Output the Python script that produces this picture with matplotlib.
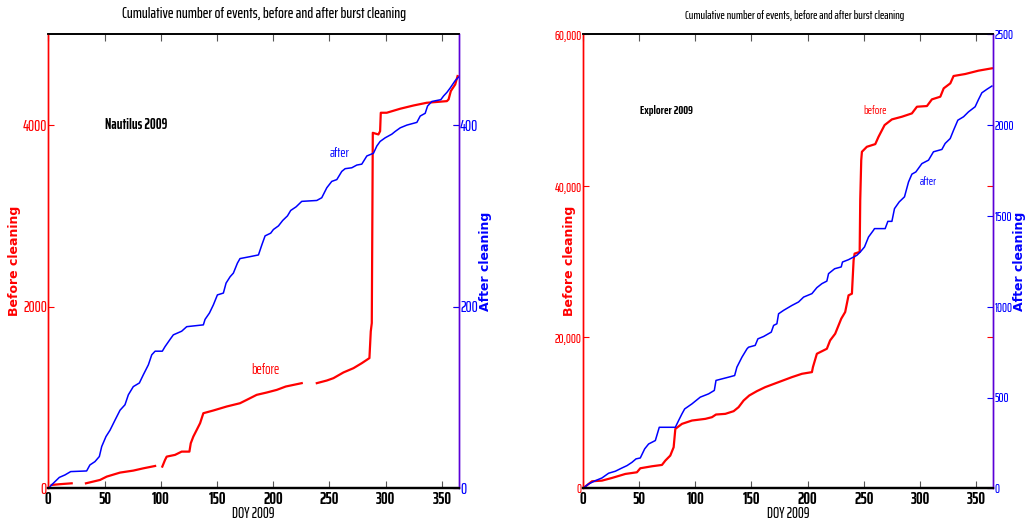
import numpy as np
import matplotlib
matplotlib.use("Agg")
import matplotlib.pyplot as plt

# ---------------- Data ----------------
# Nautilus 2009
naut_after_doy = [0, 4.4, 9.8, 14.8, 19.9, 34.1, 37, 41.5, 45.4, 47.5, 51.3, 54.9, 59.3, 63.8, 68.2,
                  71.2, 75.6, 81, 84.5, 89, 92, 95, 101.4, 103.8, 108.3, 111.2, 118.6, 123.1, 137.9,
                  139.4, 143.3, 146.8, 150.4, 155.7, 158.1, 161.7, 164.6, 168.2, 170.5, 178.9, 186.9,
                  189.9, 192.8, 197.8, 200.2, 204.7, 208.5, 212.7, 215.6, 220.4, 225.4, 238.8, 243.2,
                  247.7, 252.1, 256.6, 261, 264, 269.9, 274.4, 278.8, 283.3, 289.2, 292.2, 295.1,
                  299.6, 305.5, 308.5, 313, 318.9, 327.8, 330.8, 335.2, 337.3, 341.1, 349.1, 351.5,
                  354.5, 357.5, 361.9, 365]
naut_after_cnt = [0, 5.5, 12, 14.7, 18.4, 19.1, 25.7, 29.4, 35, 46, 57, 64, 75, 86, 92,
                  103, 112, 116, 125, 136, 147, 151, 151, 156, 164, 169, 173, 178, 180,
                  186, 193, 202, 213, 215, 226, 233, 237, 248, 253, 255, 257,
                  268, 278, 281, 285, 289, 295, 300, 306, 310, 316, 317, 320,
                  331, 338, 340, 349, 352, 353, 356, 357, 366, 369, 377, 382,
                  386, 390, 393, 397, 400, 403, 410, 413, 421, 426, 428, 432,
                  436, 441, 449, 453]
# NaN marks the gaps in the "before" record
naut_before_doy = [3, 10, 20.8, np.nan, 33.5, 46, 52, 63.8, 75.6, 84.5, 95, np.nan,
                   101.4, 103.8, 105.3, 112.7, 118.6, 125.5, 126.7, 129, 132, 135, 137.9,
                   146.8, 158.7, 170.5, 176.5, 185.3, 194.3, 203.2, 211.2, 225.4, np.nan,
                   238.8, 247.7, 253.6, 262.5, 271.4, 278.8, 283.3, 285.6, 286.8, 287.7,
                   288.3, 288.6, 293.6, 295.1, 295.7, 301, 312.9, 324.8, 336.6, 354.5,
                   356, 358, 361.9, 364]
naut_before_cnt = [37, 45, 55, np.nan, 55, 92, 129, 173, 195, 220, 246, np.nan,
                   239, 312, 349, 368, 404, 404, 496, 570, 643, 717, 827,
                   857, 901, 937, 974, 1029, 1055, 1084, 1121, 1158, np.nan,
                   1158, 1187, 1213, 1276, 1323, 1378, 1415, 1434, 1728, 1820,
                   3180, 3915, 3897, 3933, 4136, 4136, 4180, 4216, 4246, 4264,
                   4283, 4375, 4448, 4540]

# Explorer 2009
expl_after_doy = [0, 5, 11, 16.9, 22.8, 28.8, 34.7, 39.2, 43.6, 47.2, 51, 54.9, 58.4, 64.4, 67.9,
                  82.2, 85.1, 88.1, 90.5, 97, 104.4, 111.8, 116.9, 118.4, 129.6, 135, 137, 141.5,
                  146, 147.4, 153.3, 155.7, 160.8, 167.6, 169.7, 172.6, 174.1, 178.6, 186, 191.9,
                  196.4, 203.8, 208.2, 212.7, 217.1, 218.6, 224, 229.9, 231, 236.4, 243.8, 246.8,
                  250.6, 254.2, 258.6, 259.5, 269, 271.4, 275, 277.3, 281.5, 286.2, 289.8, 292.8,
                  296.3, 301.7, 307.6, 312, 319.5, 322.4, 326.9, 329.9, 333.7, 338.8, 343.2, 349.1,
                  352.1, 355.1, 359.5, 364]
expl_after_cnt = [0, 24, 42, 57, 83, 94, 112, 125, 143, 162, 167, 217, 244, 263, 336,
                  336, 373, 410, 437, 465, 502, 520, 539, 594, 612, 621, 667, 722,
                  768, 777, 787, 823, 836, 860, 897, 906, 961, 980, 1007, 1026,
                  1053, 1072, 1105, 1127, 1141, 1182, 1209, 1219, 1246, 1259, 1283, 1301,
                  1329, 1384, 1421, 1430, 1430, 1470, 1470, 1540, 1577, 1605, 1687, 1730,
                  1742, 1788, 1807, 1853, 1866, 1899, 1926, 1972, 2027, 2046, 2073, 2101,
                  2141, 2178, 2197, 2215]
expl_before_doy = [0, 8, 16.9, 25.8, 37.7, 48, 51, 61.4, 70.3, 73.3, 77.7, 80.7, 82.2, 88.1, 97,
                   108.9, 114.8, 118.4, 126.7, 134.1, 138.5, 143, 148, 154.8, 162.2, 174.1, 186,
                   194.9, 203.8, 204.7, 208.2, 217.1, 220, 224.5, 229.9, 233.4, 236.4, 239.4,
                   240.9, 241.8, 246.3, 246.8, 247.7, 248.3, 252.7, 260.2, 263.1, 268.5, 275,
                   283.9, 292.8, 297.3, 306.2, 310.6, 318.1, 321.1, 327, 329.9, 340.3, 352.1, 364]
expl_before_cnt = [0, 927, 1015, 1368, 1897, 2118, 2647, 2912, 3088, 3662, 4324, 5427, 7853, 8515, 8956,
                   9177, 9398, 9750, 9839, 10192, 10721, 11604, 12265, 12839, 13368, 14030, 14692,
                   15133, 15354, 16016, 17780, 18442, 19545, 20428, 22413, 23295, 25501, 25722,
                   30134, 31016, 31237, 38076, 43370, 44473, 45135, 45488, 46459, 48003, 48753,
                   49106, 49547, 50430, 50518, 51400, 51753, 52856, 53518, 54488, 54753, 55195, 55504]

x_ticks = [0, 50, 100, 150, 200, 250, 300, 350]
naut_left_ticks = [0, 2000, 4000]
naut_right_ticks = [0, 200, 400]
expl_left_ticks = [0, 20000, 40000, 60000]
expl_left_labels = ["0", "20,000", "40,000", "60,000"]
expl_right_ticks = [0, 500, 1000, 1500, 2000, 2500]

TITLE = "Cumulative number of events, before and after burst cleaning"

# ---------------- Style ----------------
NARROW = ["Fira Sans Extra Condensed", "PT Sans Narrow", "DejaVu Sans"]
XNARROW = ["Saira ExtraCondensed", "Fira Sans Extra Condensed", "DejaVu Sans"]
RED = "#FF0000"
BLUE = "#0000FF"
PURPLE = "#5A00D8"

fig = plt.figure(figsize=(10.25, 5.22), dpi=100)


def make_panel(rect, title, title_x, title_size, after_doy, after_cnt, before_doy, before_cnt,
               lticks, llabels, lmax, rticks, rmax, ylab_lx, ylab_rx, tick_size):
    ax1 = fig.add_axes(rect)
    ax2 = ax1.twinx()
    ax1.plot(before_doy, before_cnt, color=RED, lw=1.6)
    ax2.plot(after_doy, after_cnt, color=BLUE, lw=1.1)
    ax1.set_xlim(0, 365)
    ax1.set_ylim(0, lmax)
    ax2.set_ylim(0, rmax)

    ax1.set_xticks(x_ticks)
    ax1.set_xticklabels([str(t) for t in x_ticks], fontweight="bold", fontsize=12, family=XNARROW)
    ax1.tick_params(axis="x", direction="in", length=5, width=0.8, color="#555555",
                    top=True, pad=2)
    ax1.set_yticks(lticks)
    ax1.set_yticklabels(llabels, color=RED, fontsize=tick_size, family=XNARROW, fontweight="medium")
    ax1.tick_params(axis="y", direction="in", length=4, width=0.8, color=RED, pad=1,
                    right=True)
    ax2.set_yticks(rticks)
    ax2.set_yticklabels([str(t) for t in rticks], color=BLUE, fontsize=tick_size, family=XNARROW,
                        fontweight="medium")
    ax2.tick_params(axis="y", direction="in", length=4, width=0.8, color=BLUE, pad=1)

    for a in (ax1, ax2):
        a.spines["left"].set_color(RED)
        a.spines["right"].set_color(PURPLE)
        a.spines["bottom"].set_color("black")
        a.spines["bottom"].set_linewidth(1.6)
        a.spines["top"].set_color("black")
        a.spines["top"].set_linewidth(1.2)
        a.spines["left"].set_linewidth(1.0)
        a.spines["right"].set_linewidth(1.0)

    ax1.set_xlabel("DOY 2009", fontsize=10.5, family=XNARROW, fontweight="medium", labelpad=0)
    ax1.text(title_x, 1.03, title, transform=ax1.transAxes, ha="center", va="bottom",
             fontsize=title_size, family=XNARROW, fontweight="medium")
    fig.text(ylab_lx, rect[1] + rect[3] / 2, "Before cleaning", rotation=90, color=RED,
             fontweight="bold", fontsize=9, ha="center", va="center")
    fig.text(ylab_rx, rect[1] + rect[3] / 2, "After cleaning", rotation=90, color=BLUE,
             fontweight="bold", fontsize=9, ha="center", va="center")
    return ax1, ax2


W, H = 1025, 522
bot = 1 - 488.3 / H
hgt = (488.3 - 34.3) / H

a1, a2 = make_panel([48.3 / W, bot, 410.4 / W, hgt], TITLE, 0.525, 11,
                    naut_after_doy, naut_after_cnt, naut_before_doy, naut_before_cnt,
                    naut_left_ticks, [str(t) for t in naut_left_ticks], 5000,
                    naut_right_ticks, 500, 15 / W, 486 / W, 11)
a1.text(50.4, 4000, "Nautilus 2009", fontsize=10.5, fontweight="bold", family=XNARROW,
        ha="left", va="center")
a2.text(259, 369, "after", color=BLUE, fontsize=10, family=XNARROW, ha="center", va="center")
a1.text(193, 1300, "before", color=RED, fontsize=10.3, family=XNARROW, ha="center", va="center")

b1, b2 = make_panel([583 / W, bot, 410 / W, hgt], TITLE, 0.517, 8.5,
                    expl_after_doy, expl_after_cnt, expl_before_doy, expl_before_cnt,
                    expl_left_ticks, expl_left_labels, 60000,
                    expl_right_ticks, 2500, 570 / W, 1019 / W, 9)
b1.text(50.4, 49900, "Explorer 2009", fontsize=8.8, fontweight="bold", family=XNARROW,
        ha="left", va="center")
b1.text(260, 49900, "before", color=RED, fontsize=8.5, family=XNARROW, ha="center", va="center")
b1.text(307, 40600, "after", color=BLUE, fontsize=8.5, family=XNARROW, ha="center", va="center")

fig.savefig("out.png", dpi=100)
